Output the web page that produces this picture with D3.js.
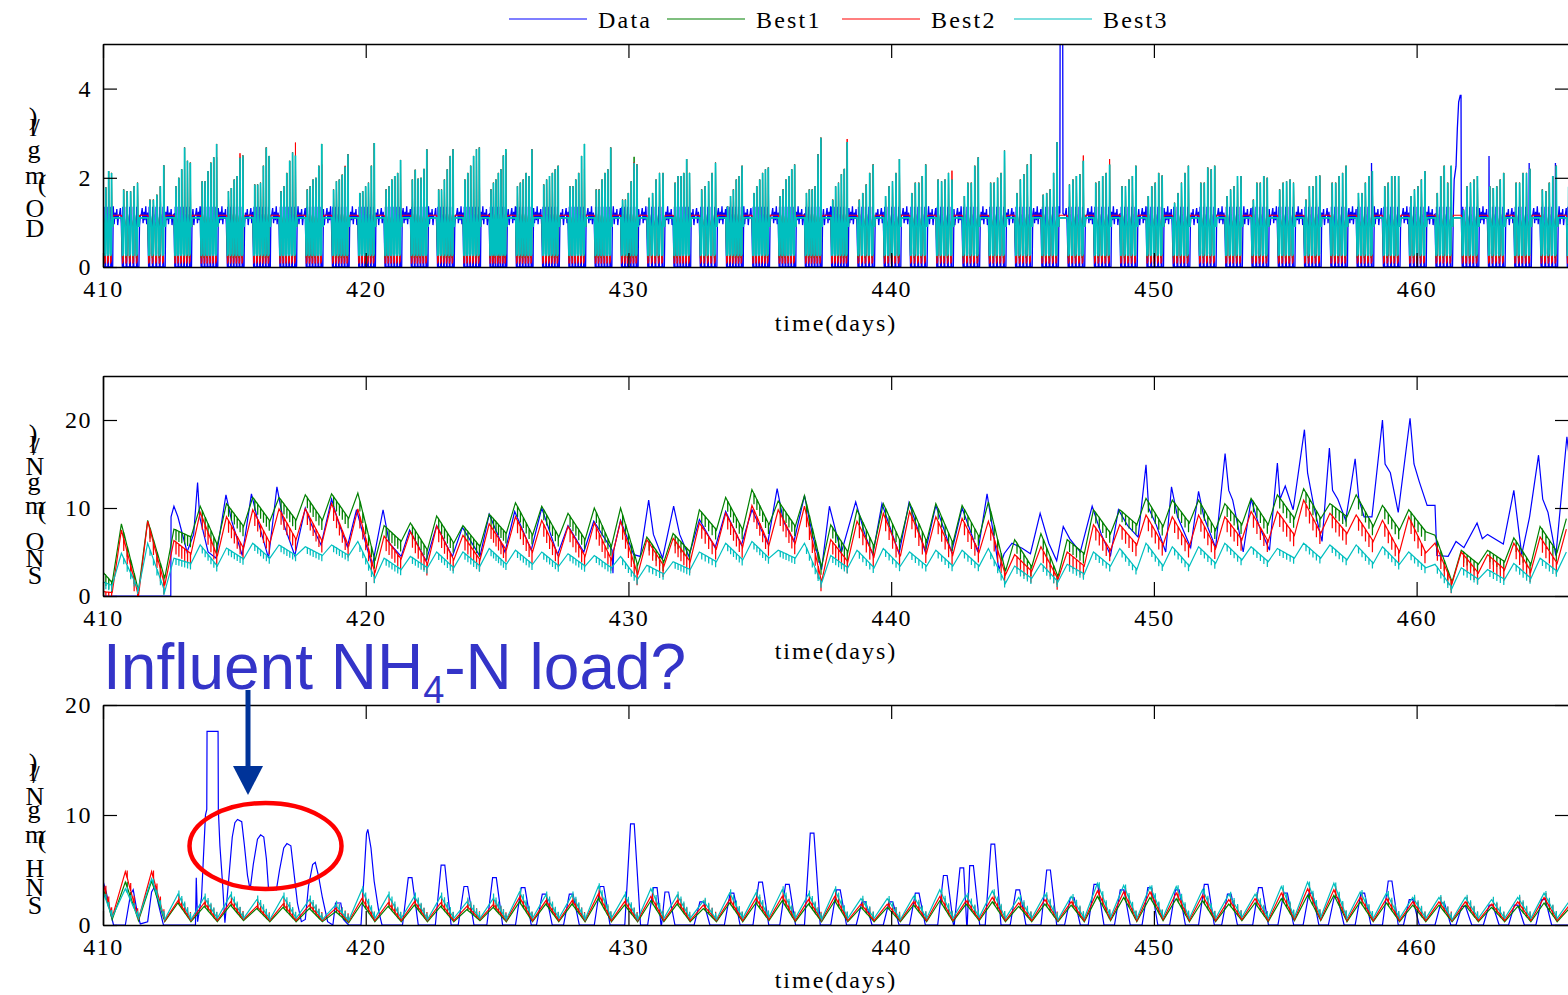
<!DOCTYPE html>
<html>
<head>
<meta charset="utf-8">
<title>DO / SNO / SNH fits</title>
<script src="https://cdn.jsdelivr.net/npm/d3@7"></script>
<style>
  body { margin: 0; background: #fff; }
  svg { display: block; font-family: "Liberation Serif", "Times New Roman", serif; }
</style>
</head>
<body>
<svg id="chart" width="1568" height="995"></svg>
<script>
// ---------- values ----------
var seriesNames = ["Data", "Best1", "Best2", "Best3"];
var seriesColors = ["#0000ff", "#008000", "#ff0000", "#00bfbf"];
var xTicks = [410, 420, 430, 440, 450, 460];
var doTicks = [0, 2, 4];
var snoTicks = [0, 10, 20];
var snhTicks = [0, 10, 20];

var dayList = d3.range(410, 466);     // one entry per day for SNO / SNH
var blockDays = d3.range(409, 466);   // one intermittent-aeration block per day for DO

// DO: spike tops of Best3 in each intermittent block (block runs d+0.72 .. d+1.38)
var doCyanPeaks = [
  [1.8,1.8,1.81,1.79,2.15,2.11], [1.74,1.7,1.7,1.81,1.89], [1.51,1.51,1.62,1.81,2.28],
  [1.81,2.0,2.19,2.68,2.38,2.34], [1.92,1.92,2.15,2.34,2.46,2.76], [1.7,1.77,1.96,2.04,2.45,2.5],
  [1.85,1.85,1.89,2.27,2.68,2.49], [1.7,1.81,2.11,2.38,2.57,2.5], [1.74,1.81,1.96,2.0,2.27,2.76],
  [1.74,1.92,1.96,2.07,2.25,2.53], [1.66,1.7,1.81,1.89,2.27,2.78], [1.74,1.81,1.96,2.04,2.11,2.4],
  [1.96,2.18,1.98,2.0,2.2,2.64], [1.74,1.74,1.96,2.19,2.49,2.64], [1.96,2.11,2.27,2.49,2.64,2.68],
  [1.74,1.89,1.96,2.11,2.19,2.5,2.64], [1.81,1.89,1.96,2.11,2.04,2.64], [1.85,1.96,2.04,2.11,2.19,2.27],
  [1.81,1.81,1.96,2.11,2.49,2.76], [1.74,1.74,1.96,2.11,2.19,2.68], [1.51,1.51,1.66,1.92,2.34,2.3],
  [1.55,1.66,1.96,2.11,2.11], [1.89,2.04,2.04,2.11,2.42,2.11], [1.74,1.81,1.92,2.11,2.34],
  [1.36,1.59,1.74,1.96,2.04,2.27], [1.66,1.81,1.96,2.11,2.19,2.23], [1.59,1.74,1.96,2.04,2.19,2.3],
  [1.66,1.74,1.74,1.81,2.53,2.9], [1.51,1.81,1.89,2.08,2.2,2.8], [1.51,1.66,1.85,2.11,2.3],
  [1.59,1.81,1.92,2.11,2.42], [1.66,1.89,1.89,2.04,2.3], [1.96,1.92,1.96,2.11,1.96],
  [1.59,1.89,1.89,2.27,2.46], [1.89,1.89,2.0,2.11,2.61], [1.66,1.96,2.08,2.3,2.53],
  [1.62,1.66,1.74,2.11,2.8], [1.85,1.96,2.04,2.08,2.38], [1.89,1.92,2.04,2.11,2.3],
  [1.81,1.81,1.96,2.04,2.27], [1.59,1.81,1.89,2.11,2.05], [1.44,1.66,1.89,2.11,2.27],
  [1.89,1.89,2.23,2.19,2.27], [1.59,1.74,1.81,2.04,2.04], [1.51,1.89,1.89,2.04,2.0],
  [1.74,1.89,1.92,1.96,1.89], [1.51,1.81,1.81,2.04,2.05], [1.89,1.89,2.04,2.11,2.27],
  [1.66,1.66,1.89,2.04,2.15], [1.81,1.89,2.04,2.04,2.04], [1.59,1.74,1.81,1.96,2.15],
  [1.66,2.04,2.27,1.89,2.27], [1.29,1.81,1.89,1.96,2.04], [1.81,1.77,1.81,1.96,2.11],
  [1.89,1.89,2.11,2.11,2.2], [1.74,1.7,1.89,2.04,2.27], [1.8,1.9,2.0,2.1,2.2]
];
var doTrough = [0.0, 0.2, 0.08, 0.25];       // bottom of each aeration cycle per series
var doSteady = [1.15, 1.1, 1.16, 1.1];       // level during continuous aeration
var doBluePeak = 1.35;
var doBlueNoise = [1.18, 1.32, 0.98, 1.24, 1.05, 1.36, 0.96, 1.22, 1.08, 1.3, 0.94, 1.16];
var doRedTips = [[415.24,2.55],[417.28,2.79],[418.33,2.3],[419.2,2.27],[425.37,2.56],[428.37,2.2],
  [430.26,2.35],[433.32,2.34],[436.4,2.25],[438.31,2.87],[442.28,2.16],[447.29,2.5],[448.33,2.42],[461.28,2.25]];
var doGreenTips = [[414.36,2.46],[430.2,2.47]];
var doBlueTips = [[458.33,2.33],[462.75,2.49],[464.35,2.33],[465.35,2.33]];
var doBlueEvents = [
  [[446.42,1.2],[446.43,5.0],[446.53,5.0],[446.54,1.2]],
  [[461.4,1.3],[461.43,1.96],[461.5,2.26],[461.55,3.1],[461.6,3.7],[461.66,3.85],[461.69,3.85],[461.7,1.2]]
];

// SNO: value at 410.0, daily minimum (d+0.35) and daily maximum (d+0.7)
var snoStart = [0, 2.7, 0.5, 1.6];
var snoGreenTrough = [1.5,0.6,2.0,6.7,5.8,7.9,8.5,8.6,8.6,8.8, 4.0,6.2,5.2,6.0,5.6,7.1,6.9,6.7,6.4,5.6,
  3.5,3.9,5.0,7.5,7.5,8.1,7.9,3.3,5.0,5.6, 6.2,6.2,6.0,6.7,2.8,3.3,2.2,4.8,7.1,8.1,
  7.9,8.3,7.5,8.1,8.1,8.8,8.8,9.0,7.9,7.5, 7.3,1.6,3.6,3.9,3.6,5.0];
var snoGreenPeak = [8.2,8.6,7.6,10.2,10.5,11.2,11.2,11.5,11.6,11.7, 8.0,8.3,9.1,8.0,9.3,10.6,10.2,9.4,10.0,10.0,
  6.7,7.1,9.8,11.2,12.1,10.8,11.4,8.1,9.8,10.5, 10.6,10.5,10.3,10.7,6.4,7.1,6.4,9.8,9.8,11.1,
  10.9,10.9,10.5,11.1,11.5,12.2,10.5,11.5,10.3,9.8, 6.9,5.2,5.2,6.6,7.9,8.8];
var snoRedTrough = [0.4,0.0,1.2,4.8,4.5,5.4,6.0,6.4,6.2,5.6, 2.6,4.2,3.6,4.1,4.1,5.2,5.0,4.5,4.5,4.1,
  2.4,3.4,3.9,5.4,5.6,5.8,6.0,1.6,3.9,4.5, 4.5,4.9,4.7,5.0,2.4,2.8,1.9,3.4,5.2,5.8,
  5.8,5.6,5.4,6.4,6.2,6.9,7.1,7.1,6.2,5.0, 4.9,1.45,2.6,3.0,2.8,3.7];
var snoRedPeak = [7.5,8.5,6.3,9.5,9.0,9.8,9.9,9.9,10.5,9.9, 6.8,7.3,7.95,6.9,8.2,9.0,8.6,7.9,8.3,8.5,
  6.4,6.55,8.3,9.4,10.3,9.8,10.2,6.4,8.5,9.4, 9.6,9.0,8.8,8.5,4.7,5.6,5.0,8.1,8.1,9.2,
  9.0,9.2,9.0,9.6,9.6,10.9,9.4,9.2,8.6,9.0, 6.0,5.0,4.7,6.0,6.7,7.6];
var snoCyanTrough = [1.2,0.7,0.5,3.7,3.4,4.2,4.3,4.6,4.6,4.6, 2.0,3.0,3.2,3.2,3.4,3.6,3.6,3.4,3.4,3.2,
  1.9,2.5,3.0,3.9,4.1,4.3,4.3,1.45,3.2,3.2, 3.4,3.4,3.4,3.4,1.45,2.0,1.6,2.5,3.4,3.0,
  3.4,3.4,3.7,4.1,3.9,4.3,4.3,4.1,3.7,3.6, 3.2,0.9,1.9,1.9,2.0,2.8];
var snoCyanPeak = [4.85,6.0,4.3,5.8,5.45,6.0,5.8,5.6,5.8,6.2, 4.3,4.5,5.0,5.0,5.4,5.2,5.0,4.8,4.6,4.5,
  3.5,3.9,5.0,6.0,6.2,5.2,6.0,4.6,5.2,5.4, 5.0,5.2,5.2,5.4,3.4,3.7,3.6,5.0,5.4,6.0,
  5.6,5.6,6.0,5.6,5.4,6.0,5.8,5.8,5.6,5.0, 3.6,3.2,3.0,3.7,4.3,5.0];
var snoTeeth = [0, 1.2, 1.4, 0.7];
var snoBlue = [[410,0],[412.58,0],[412.59,9.0],[412.7,10.2],[412.85,9.0],[413.2,5.0],[413.45,7],[413.6,12.9],
  [413.68,9.0],[414.0,5.0],[414.3,4.3],[414.68,11.5],[414.9,8.5],[415.3,4.6],[415.65,11.6],[415.9,8.5],
  [416.3,4.3],[416.62,12.4],[416.9,8],[417.3,4.6],[417.7,10.0],[417.95,8],[418.3,5.8],[418.7,11.0],
  [418.95,8.5],[419.3,5.6],[419.65,9.8],[419.9,7],[420.25,3.4],[420.66,9.8],[420.9,6],[421.35,4.5],
  [421.67,7.5],[422.3,4.0],[422.7,8.0],[423.3,4.5],[423.68,7.8],[424.35,4.5],[424.7,9.3],[425.3,5.0],
  [425.67,9.6],[426.3,5.2],[426.7,10.0],[427.3,4.7],[427.7,8.0],[428.3,5.0],[428.68,8.5],[429.38,5.2],
  [429.41,2.6],[429.44,5.2],[429.7,8.6],[430.2,4.7],[430.45,4.5],[430.77,10.9],[430.95,7.0],[431.3,4.3],
  [431.72,10.2],[431.95,7],[432.3,4.5],[432.7,8.7],[433.3,5.5],[433.7,9.6],[434.3,5.8],[434.7,9.8],
  [435.3,6.0],[435.66,12.2],[435.9,8.5],[436.3,6.2],[436.7,11.4],[437.0,7],[437.35,3.0],[437.65,10.2],
  [438.1,4.9],[438.65,10.7],[439.0,7],[439.3,4.7],[439.65,10.5],[440.3,4.8],[440.68,10.6],[441.3,5.0],
  [441.7,10.3],[442.3,5.0],[442.7,10.0],[443.3,5.0],[443.65,11.6],[443.95,6],[444.1,3.0],[444.3,4.8],
  [444.6,6.0],[445.0,5.4],[445.3,4.8],[445.67,9.4],[446.0,6.0],[446.3,4.0],[446.55,7.9],[446.8,6.5],
  [447.2,5.0],[447.65,10.2],[448.0,7],[448.35,4.6],[448.65,9.8],[449.0,8],[449.4,6.7],[449.7,14.9],
  [449.8,10],[450.1,8],[450.45,5.0],[450.67,12.4],[450.9,9],[451.4,5.5],[451.7,11.9],[451.9,9],
  [452.35,5.5],[452.71,16.2],[452.85,12],[453.0,10.9],[453.4,5.0],[453.7,11],[454.0,8],[454.4,5.2],
  [454.7,15.1],[454.8,11],[455.0,12.5],[455.3,9.8],[455.73,18.9],[455.85,14],[456.1,10],[456.4,6.2],
  [456.68,16.8],[456.8,12],[457.0,11],[457.3,8.6],[457.66,15.6],[457.8,11],[458.0,9],[458.3,9.0],
  [458.7,20.0],[458.8,15],[459.0,14],[459.3,9.5],[459.75,20.2],[459.9,15],[460.1,13],[460.4,10.3],
  [460.7,10.3],[460.77,4.6],[461.2,4.5],[461.5,6.2],[461.8,5.5],[462.3,8.3],[462.5,6.5],[462.7,7],
  [463.3,5.9],[463.7,12.0],[464.0,4.7],[464.3,9],[464.64,16.0],[464.8,11],[465.0,9.5],[465.3,4.6],
  [465.72,18.1],[465.8,16]];

// SNH: value at 410.0, daily minimum (d+0.35) and daily maximum (d+0.85)
var snhStart = [4.0, 3.4, 3.8, 3.0];
var snhGreenTrough = [0.5,0.4,0.3,0.3,0.3,0.4,0.3,0.3,0.3,0.2, 0.3,0.3,0.3,0.3,0.4,0.3,0.3,0.3,0.3,0.3,
  0.3,0.3,0.3,0.3,0.3,0.4,0.3,0.3,0.3,0.3, 0.3,0.3,0.3,0.4,0.3,0.3,0.3,0.3,0.4,0.3,
  0.4,0.3,0.3,0.4,0.3,0.4,0.4,0.3,0.3,0.3, 0.3,0.3,0.3,0.3,0.3,0.3];
var snhGreenPeak = [3.9,4.0,2.0,1.7,1.8,1.5,1.6,1.5,1.2,2.0, 1.7,1.8,1.7,1.4,1.6,2.1,1.9,1.9,2.4,1.8,
  2.2,1.9,1.5,2.0,2.0,2.2,1.9,2.2,1.6,1.6, 1.8,2.2,1.9,2.1,1.7,1.9,1.8,2.6,2.5,2.5,
  2.4,2.2,1.9,2.0,2.4,2.7,2.7,2.1,2.0,1.8, 1.8,1.8,1.6,1.7,2.0,1.6];
var snhRedTrough = [0.7,0.5,0.4,0.4,0.4,0.5,0.4,0.4,0.4,0.3, 0.4,0.4,0.4,0.4,0.5,0.4,0.4,0.4,0.4,0.4,
  0.4,0.4,0.4,0.4,0.4,0.5,0.4,0.4,0.4,0.4, 0.4,0.4,0.4,0.5,0.4,0.4,0.4,0.4,0.5,0.4,
  0.5,0.4,0.4,0.5,0.4,0.5,0.5,0.4,0.4,0.4, 0.4,0.4,0.4,0.4,0.4,0.4];
var snhRedPeak = [4.85,4.85,2.2,2.0,2.1,1.7,1.9,1.8,1.5,2.4, 2.0,2.1,2.0,1.7,1.85,2.5,2.2,2.2,2.8,2.1,
  2.6,2.2,1.8,2.3,2.4,2.6,2.3,2.6,1.9,1.9, 2.1,2.6,2.2,2.5,2.0,2.3,2.1,3.1,3.0,3.0,
  2.9,2.7,2.3,2.4,2.9,3.3,3.2,2.5,2.4,2.1, 2.1,2.1,1.9,2.1,2.5,1.9];
var snhCyanTrough = [0.7,0.6,0.5,0.5,0.6,0.6,0.5,0.6,0.5,0.4, 0.6,0.6,0.5,0.6,0.6,0.5,0.6,0.6,0.5,0.6,
  0.5,0.6,0.6,0.5,0.6,0.7,0.6,0.5,0.6,0.6, 0.5,0.6,0.6,0.7,0.6,0.6,0.5,0.6,0.7,0.6,
  0.7,0.6,0.6,0.7,0.6,0.7,0.7,0.6,0.6,0.6, 0.6,0.5,0.6,0.6,0.6,0.6];
var snhCyanPeak = [3.3,4.2,2.8,2.5,2.7,2.3,2.6,2.3,1.8,3.2, 2.7,2.6,2.6,2.1,2.4,3.0,2.7,2.7,3.5,2.7,
  3.3,2.7,2.2,2.9,2.9,3.2,2.8,3.2,2.4,2.4, 2.6,3.2,2.7,3.1,2.5,2.8,2.6,3.8,3.6,3.5,
  3.5,3.2,2.8,2.8,3.5,3.9,3.8,3.0,2.9,2.5, 2.5,2.5,2.3,2.5,2.9,2.3];
var snhTeeth = [0, -0.5, -0.7, -0.5];
var snhBlueEarly = [[410.0,4.0],[410.12,3.0],[410.3,1.0],[410.4,0],[410.85,0],[411.05,2.8],[411.15,3.2],
  [411.3,1.2],[411.42,0.1],[411.7,0.3],[411.85,3.0],[411.97,3.5],[412.1,2.0],[412.3,0],[413.52,0],
  [413.55,4.3],[413.6,0.3],[413.75,2.5],[413.9,10.0],[413.95,10.5],[413.96,17.6],[414.38,17.6],
  [414.39,10.5],[414.45,7.2],[414.55,3.8],[414.64,0.2],[414.78,4.0],[414.92,8.0],[415.02,9.3],
  [415.12,9.6],[415.28,9.4],[415.38,7.3],[415.5,4.5],[415.6,3.2],[415.72,5.5],[415.88,7.8],[416.0,8.2],
  [416.12,8.0],[416.22,6.0],[416.3,3.3],[416.6,3.2],[416.72,5.0],[416.88,7.0],[417.0,7.4],[417.15,7.2],
  [417.28,4.5],[417.4,2.0],[417.55,0.3],[417.7,0.5],[417.82,3.5],[417.98,5.5],[418.08,5.7],[418.2,4.5],
  [418.35,2.5],[418.55,0.3],[418.75,0],[418.85,2.0],[419.05,2.0],[419.15,0.5],[419.35,0],[419.82,0],
  [419.95,5.0],[420.03,8.3],[420.08,8.7],[420.2,7.0],[420.32,4.0],[420.5,1.2],[420.62,0]];
var snhBluePeaks = [[421.7,4.3],[422.95,5.45],[423.82,3.5],[424.91,4.3],[426.0,3.4],[426.8,2.8],
  [427.83,2.8],[429.0,3.5],[430.16,9.2],[431.03,3.4],[431.47,3.0],[432.8,2.1],[433.95,2.9],[435.04,3.9],
  [436.06,3.7],[437.0,8.35],[438.0,3.2],[438.97,2.1],[440.0,2.1],[441.0,2.9],[442.07,4.5],[442.7,5.2],
  [443.07,5.4],[443.88,7.36],[444.83,3.2],[446.0,5.0],[446.9,2.5],[447.8,3.7],[448.8,3.2],[449.85,3.4],
  [450.9,3.2],[452.0,3.7],[452.88,2.8],[454.06,3.4],[455.02,2.9],[455.98,2.9],[456.94,2.5],[457.96,2.9],
  [459.0,4.0],[459.8,2.3],[461.0,2.0],[461.8,1.7],[462.84,1.8],[463.8,1.8],[464.84,2.3]];

// ---------- layout ----------
var svg = d3.select("#chart");
var x = d3.scaleLinear().domain([410, 465.8]).range([103, 1569]);
var blockStart = 0.72, blockEnd = 1.38;

var doLabel = [["D",35,228],["O",35,208],["(",42,183],["m",35,175],["g",34,149],["/",36,127],["l",33,127],[")",33,116]];
var snoLabel = [["S",35,575],["N",35,558],["O",35,541],["(",42,510],["m",35,505],["g",34,481],["N",35,466],["/",36,446],["l",33,444],[")",33,433]];
var snhLabel = [["S",35,905],["N",35,887],["H",35,868],["(",42,839],["m",35,834],["g",34,809],["N",35,796],["/",36,774],["l",33,772],[")",33,762]];

var panels = [
  {top: 44, bottom: 267, yMax: 5, ticks: doTicks, label: doLabel, titleY: 331},
  {top: 376, bottom: 596, yMax: 25, ticks: snoTicks, label: snoLabel, titleY: 659},
  {top: 705, bottom: 925, yMax: 20, ticks: snhTicks, label: snhLabel, titleY: 988}
];
var doWidths = [1.3, 1.0, 1.0, 1.7];

// ---------- series builders ----------
function findTip(tips, t0, t1) {
  for (var i = 0; i < tips.length; i++) {
    if (tips[i][0] >= t0 && tips[i][0] < t1) return tips[i][1];
  }
  return null;
}

var doCycleTimes = [];
blockDays.forEach(function (d, k) {
  var n = doCyanPeaks[k].length, p = (blockEnd - blockStart) / n;
  for (var i = 0; i < n; i++) doCycleTimes.push(d + blockStart + (i + 0.5) * p);
});

function buildDO(s) {
  var pts = [];
  blockDays.forEach(function (d, k) {
    var s0 = d - 1 + blockEnd, b0 = d + blockStart, b1 = d + blockEnd;
    if (s === 0) {
      var ev = doBlueEvents.filter(function (e) { return e[0][0] >= s0 && e[0][0] < b0; });
      var j = 0;
      for (var t = s0 + 0.01; t < b0 - 0.01; t += 0.034, j++) {
        var inEv = ev.some(function (e) { return t >= e[0][0] - 0.02 && t <= e[e.length - 1][0] + 0.02; });
        if (!inEv) pts.push([t, doBlueNoise[(k * 5 + j) % doBlueNoise.length]]);
      }
      ev.forEach(function (e) { e.forEach(function (q) { pts.push(q); }); });
    } else {
      pts.push([s0 + 0.01, doSteady[s]], [b0 - 0.01, doSteady[s]]);
    }
    var peaks = doCyanPeaks[k], n = peaks.length, p = (b1 - b0) / n;
    peaks.forEach(function (pk, i) {
      var t0 = b0 + i * p;
      if (s === 0) {
        // the measured DO swings while the models sit at their minimum
        var bt = findTip(doBlueTips, t0, t0 + p);
        pts.push([t0 + 0.12 * p, doTrough[0]], [t0 + 0.22 * p, doTrough[0]], [t0 + 0.27 * p, bt || doBluePeak],
          [t0 + 0.34 * p, 0.6], [t0 + 0.45 * p, doTrough[0]], [t0 + 0.9 * p, doTrough[0]]);
      } else {
        var tip = s === 2 ? findTip(doRedTips, t0, t0 + p) : (s === 1 ? findTip(doGreenTips, t0, t0 + p) : null);
        pts.push([t0 + 0.14 * p, doTrough[s]], [t0 + 0.42 * p, doTrough[s] + 0.05], [t0 + 0.5 * p, tip || pk],
          [t0 + 0.6 * p, 1.2], [t0 + 0.97 * p, 0.9]);
      }
    });
  });
  pts.sort(function (a, b) { return a[0] - b[0]; });
  return pts;
}

function buildDaily(start, troughs, peaks, tPhase, pPhase) {
  var pts = [[410, start]];
  dayList.forEach(function (d, i) {
    pts.push([d + tPhase, troughs[i]], [d + pPhase, peaks[i]]);
  });
  return pts;
}

// comb marks left by each aeration pulse on the falling limb
function addTeeth(pts, depth) {
  if (!depth) return pts;
  var out = [pts[0]], c = 0;
  for (var i = 1; i < pts.length; i++) {
    var a = pts[i - 1], b = pts[i];
    while (c < doCycleTimes.length && doCycleTimes[c] <= a[0]) c++;
    if (b[1] < a[1]) {
      while (c < doCycleTimes.length && doCycleTimes[c] < b[0] - 0.01) {
        var t = doCycleTimes[c], v = a[1] + (b[1] - a[1]) * (t - a[0]) / (b[0] - a[0]);
        out.push([t, v], [t + 0.004, Math.max(0, v - depth)], [t + 0.008, v]);
        c++;
      }
    }
    out.push(b);
  }
  return out;
}

function buildSnhBlue() {
  var pts = snhBlueEarly.slice();
  snhBluePeaks.forEach(function (pk, i) {
    var t = pk[0], v = pk[1];
    var prev = i > 0 ? snhBluePeaks[i - 1][0] : -Infinity;
    var next = i < snhBluePeaks.length - 1 ? snhBluePeaks[i + 1][0] : Infinity;
    var a = Math.max(t - 0.3, (prev + t) / 2 + 0.01), b = Math.min(t + 0.3, (t + next) / 2 - 0.01);
    pts.push([a, 0], [t - 0.08, v], [t + 0.06, v], [b, 0]);
  });
  pts.push([465.8, 0]);
  return pts;
}

var panelSeries = [
  [buildDO(0), buildDO(1), buildDO(2), buildDO(3)],
  [snoBlue,
   addTeeth(buildDaily(snoStart[1], snoGreenTrough, snoGreenPeak, 0.35, 0.7), snoTeeth[1]),
   addTeeth(buildDaily(snoStart[2], snoRedTrough, snoRedPeak, 0.35, 0.7), snoTeeth[2]),
   addTeeth(buildDaily(snoStart[3], snoCyanTrough, snoCyanPeak, 0.35, 0.7), snoTeeth[3])],
  [buildSnhBlue(),
   addTeeth(buildDaily(snhStart[1], snhGreenTrough, snhGreenPeak, 0.35, 0.85), snhTeeth[1]),
   addTeeth(buildDaily(snhStart[2], snhRedTrough, snhRedPeak, 0.35, 0.85), snhTeeth[2]),
   addTeeth(buildDaily(snhStart[3], snhCyanTrough, snhCyanPeak, 0.35, 0.85), snhTeeth[3])]
];

// ---------- draw panels ----------
panels.forEach(function (P, pi) {
  var y = d3.scaleLinear().domain([0, P.yMax]).range([P.bottom, P.top]);
  var clipId = "clip" + pi;
  svg.append("clipPath").attr("id", clipId).append("rect")
    .attr("x", 103).attr("y", P.top).attr("width", 1466).attr("height", P.bottom - P.top);

  var line = d3.line()
    .x(function (d) { return x(d[0]); })
    .y(function (d) { return y(d[1]); });

  var g = svg.append("g").attr("clip-path", "url(#" + clipId + ")");
  panelSeries[pi].forEach(function (pts, si) {
    g.append("path")
      .attr("d", line(pts))
      .attr("fill", "none")
      .attr("stroke", seriesColors[si])
      .attr("stroke-width", pi === 0 ? doWidths[si] : 1.2)
      .attr("stroke-linejoin", "miter");
  });

  // frame + ticks (inward, MATLAB style)
  var bottomAxis = svg.append("g").attr("transform", "translate(0," + P.bottom + ")")
    .call(d3.axisBottom(x).tickValues(xTicks).tickSizeInner(-14).tickSizeOuter(0).tickPadding(13).tickFormat(d3.format("d")));
  var topAxis = svg.append("g").attr("transform", "translate(0," + P.top + ")")
    .call(d3.axisTop(x).tickValues(xTicks).tickSizeInner(-14).tickSizeOuter(0).tickFormat(""));
  var leftAxis = svg.append("g").attr("transform", "translate(103,0)")
    .call(d3.axisLeft(y).tickValues(P.ticks).tickSizeInner(-14).tickSizeOuter(0).tickPadding(11).tickFormat(d3.format("d")));
  var rightAxis = svg.append("g").attr("transform", "translate(1569,0)")
    .call(d3.axisRight(y).tickValues(P.ticks).tickSizeInner(-14).tickSizeOuter(0).tickFormat(""));

  [bottomAxis, topAxis, leftAxis, rightAxis].forEach(function (ax) {
    ax.select(".domain").attr("stroke", "#000").attr("stroke-width", 1.6);
    ax.selectAll(".tick line").attr("stroke", "#000").attr("stroke-width", 1.2);
    ax.selectAll(".tick text")
      .attr("fill", "#000")
      .style("font-family", "'Liberation Serif', 'Times New Roman', serif")
      .style("font-size", "24px")
      .style("letter-spacing", "1.5px");
  });

  svg.append("text")
    .attr("x", 836).attr("y", P.titleY)
    .attr("text-anchor", "middle")
    .style("font-size", "24px")
    .style("letter-spacing", "2px")
    .text("time(days)");

  // y label: the glyphs are stacked upright, as in the exported figure
  svg.append("g").selectAll("text").data(P.label).enter().append("text")
    .attr("x", function (d) { return d[1]; })
    .attr("y", function (d) { return d[2]; })
    .attr("text-anchor", "middle")
    .attr("dominant-baseline", "central")
    .style("font-size", "26px")
    .text(function (d) { return d[0]; });
});

// ---------- legend ----------
var legendX = [509, 667, 842, 1014];
var legend = svg.append("g");
seriesNames.forEach(function (name, i) {
  legend.append("line")
    .attr("x1", legendX[i]).attr("x2", legendX[i] + 78)
    .attr("y1", 19).attr("y2", 19)
    .attr("stroke", seriesColors[i]).attr("stroke-width", 1.2);
  legend.append("text")
    .attr("x", legendX[i] + 89).attr("y", 28)
    .style("font-size", "24px")
    .style("letter-spacing", "2.2px")
    .text(name);
});

// ---------- annotation ----------
var note = svg.append("text")
  .attr("x", 103).attr("y", 689)
  .attr("fill", "#3434c8")
  .style("font-family", "'Liberation Sans', Arial, sans-serif")
  .style("font-size", "64px");
note.append("tspan").text("Influent NH");
note.append("tspan").attr("dy", 14).style("font-size", "38px").text("4");
note.append("tspan").attr("dy", -14).text("-N load?");

svg.append("line")
  .attr("x1", 248).attr("y1", 690).attr("x2", 248).attr("y2", 770)
  .attr("stroke", "#003399").attr("stroke-width", 5);
svg.append("path")
  .attr("d", "M233,766L263,766L248,795Z")
  .attr("fill", "#003399");
svg.append("ellipse")
  .attr("cx", 265.5).attr("cy", 846).attr("rx", 76).attr("ry", 43)
  .attr("fill", "none").attr("stroke", "#ff0000").attr("stroke-width", 4.5);
</script>
</body>
</html>
